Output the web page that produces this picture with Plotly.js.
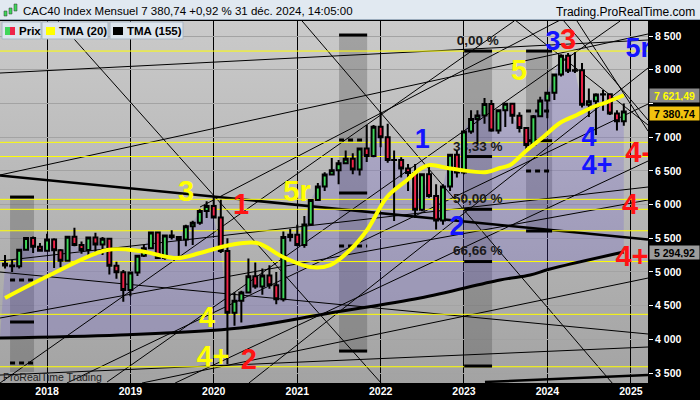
<!DOCTYPE html>
<html>
<head>
<meta charset="utf-8">
<script src="https://cdn.plot.ly/plotly-3.0.1.min.js"></script>
<style>
  html, body { margin: 0; padding: 0; background: #000; }
  #chart { width: 700px; height: 400px; }
</style>
</head>
<body>
<div id="chart"></div>
<script>
// Monthly candles, Jul 2017 - Dec 2024
const months = [
  '2017-07','2017-08','2017-09','2017-10','2017-11','2017-12',
  '2018-01','2018-02','2018-03','2018-04','2018-05','2018-06','2018-07','2018-08','2018-09','2018-10','2018-11','2018-12',
  '2019-01','2019-02','2019-03','2019-04','2019-05','2019-06','2019-07','2019-08','2019-09','2019-10','2019-11','2019-12',
  '2020-01','2020-02','2020-03','2020-04','2020-05','2020-06','2020-07','2020-08','2020-09','2020-10','2020-11','2020-12',
  '2021-01','2021-02','2021-03','2021-04','2021-05','2021-06','2021-07','2021-08','2021-09','2021-10','2021-11','2021-12',
  '2022-01','2022-02','2022-03','2022-04','2022-05','2022-06','2022-07','2022-08','2022-09','2022-10','2022-11','2022-12',
  '2023-01','2023-02','2023-03','2023-04','2023-05','2023-06','2023-07','2023-08','2023-09','2023-10','2023-11','2023-12',
  '2024-01','2024-02','2024-03','2024-04','2024-05','2024-06','2024-07','2024-08','2024-09','2024-10','2024-11','2024-12'
];
const opens = [
  5121,5094,5086,5330,5503,5373,
  5313,5482,5320,5167,5521,5398,5324,5511,5407,5493,5093,4997,
  4731,4993,5241,5351,5586,5208,5539,5519,5480,5678,5730,5905,
  5978,5806,5310,4396,4572,4695,4936,4784,4947,4803,4594,5518,
  5551,5399,5703,6067,6269,6447,6508,6613,6680,6520,6830,6721,
  7153,7000,6659,6660,6534,6469,5923,6449,6125,5762,6267,6739,
  6474,7082,7268,7322,7492,7099,7400,7497,7316,7135,6885,7311,
  7543,7657,7928,8206,7985,7993,7479,7531,7631,7636,7350,7235
];
const highs = [
  5250,5180,5340,5518,5525,5430,
  5565,5500,5340,5530,5657,5450,5520,5580,5520,5500,5150,5030,
  5000,5250,5400,5600,5600,5550,5620,5530,5700,5760,5930,6050,
  6111,6070,5500,4700,4720,5200,5140,5050,5100,5000,5600,5640,
  5700,5830,6080,6320,6480,6690,6660,6800,6760,6830,7180,7180,
  7376,7200,6800,6700,6600,6600,6450,6600,6300,6300,6750,6800,
  7100,7400,7400,7580,7550,7400,7500,7500,7370,7150,7330,7600,
  7660,7930,8230,8250,8259,8100,7720,7650,7700,7650,7400,7500
];
const lows = [
  5050,5000,5050,5320,5280,5300,
  5300,5060,5070,5150,5380,5270,5250,5300,5250,4960,4900,4556,
  4640,4940,5220,5340,5205,5180,5480,5200,5380,5400,5700,5800,
  5800,5280,3632,4200,4250,4700,4750,4660,4750,4520,4560,5450,
  5380,5360,5700,6060,6200,6440,6300,6600,6450,6430,6630,6700,
  6850,6620,5756,6400,6200,5800,5900,6100,5628,5700,6200,6400,
  6450,7050,6900,7200,7080,7050,7150,7200,7070,6800,6880,7300,
  7280,7550,7900,7950,7950,7440,7300,7030,7390,7330,7100,7170
];
const closes = [
  5094,5086,5330,5503,5373,5313,
  5482,5320,5167,5521,5398,5324,5511,5407,5493,5093,4997,4731,
  4993,5241,5351,5586,5208,5539,5519,5480,5678,5730,5905,5978,
  5806,5310,4396,4572,4695,4936,4784,4947,4803,4594,5518,5551,
  5399,5703,6067,6269,6447,6508,6613,6680,6520,6830,6721,7153,
  7000,6659,6660,6534,6469,5923,6449,6125,5762,6267,6739,6474,
  7082,7268,7322,7492,7099,7400,7497,7316,7135,6885,7311,7543,
  7657,7928,8206,7985,7993,7479,7531,7631,7636,7350,7235,7381
];

// TMA (20) and TMA (155)
const tma20Dates = ['2017-07-01','2018-01-14','2018-09-21','2019-02-12','2019-07-24','2019-11-02','2020-03-12','2020-07-09',
  '2020-10-31','2021-02-26','2021-05-25','2021-08-20','2021-11-03','2022-01-29','2022-04-27','2022-06-23','2022-08-06',
  '2022-10-19','2022-12-15','2023-04-12','2023-06-08','2023-07-22','2023-10-04','2023-12-14','2024-02-25','2024-05-09',
  '2024-07-19','2024-09-18','2024-12-01'];
const tma20Values = [4613,4954,5325,5310,5206,5280,5399,5429,5221,5073,5102,5325,5622,6111,6363,6527,6586,
  6542,6512,6482,6542,6586,6809,7001,7209,7328,7447,7521,7621];
const tma155Dates = ['2017-06-09','2018-11-17','2020-04-24','2021-05-25','2022-06-23','2023-06-08','2023-10-18','2024-01-13','2024-12-01'];
const tma155Values = [4019,4064,4168,4390,4613,4880,4954,5043,5295];

// horizontal support / resistance levels (yellow)
const yellowLevels = [8277, 6923, 6712, 6077, 5929, 5611, 5154, 4371, 3593];

// price axis ticks (7 500 sits under the price boxes)
const priceTicks = [3500, 4000, 4500, 5000, 5500, 6000, 6500, 7000, 7500, 8000, 8500];
const priceTickText = ['3 500', '4 000', '4 500', '5 000', '5 500', '6 000', '6 500', '7 000', '', '8 000', '8 500'];

// drawn trendlines: [start date, start price, end date, end price]
const thinLines = [
  ['2017-06-09', 7951, '2025-03-17', 8441],
  ['2017-06-09', 6438, '2025-03-17', 8530],
  ['2018-02-18', 8723, '2022-01-03', 3352],
  ['2021-01-22', 8723, '2024-10-11', 3352],
  ['2017-06-09', 3352, '2023-08-09', 8723],
  ['2017-06-09', 4316, '2025-03-17', 6067],
  ['2017-06-09', 4998, '2025-03-17', 4079],
  ['2017-06-09', 5162, '2025-03-17', 6260],
  ['2019-02-21', 3352, '2025-03-17', 4909],
  ['2017-06-09', 3470, '2025-03-17', 3886],
  ['2018-09-21', 3367, '2024-11-15', 8723],
  ['2020-06-03', 3352, '2025-03-17', 8025],
  ['2019-07-16', 3352, '2025-03-17', 6645],
  ['2018-03-29', 3352, '2025-03-17', 7491],
  ['2019-11-02', 5963, '2024-02-26', 8737],
  ['2023-08-13', 8737, '2025-03-17', 7179],
  ['2024-03-10', 8737, '2025-03-17', 7254],
  ['2024-05-10', 8723, '2025-03-17', 7090]
];
const thickLines = [
  ['2017-06-09', 6430, '2025-03-17', 5481],
  ['2023-04-03', 3367, '2025-03-17', 3470]
];

// shaded boxes: [start, end, bottom, top] and the levels marked inside them
const boxes = [
  ['2017-07-23', '2017-11-05', 3515, 6111],
  ['2021-07-03', '2021-11-03', 3826, 8515],
  ['2023-01-02', '2023-05-04', 3604, 8277],
  ['2023-09-30', '2024-01-22', 5607, 8277]
];
const boxSolidLevels = [[6111, 4257], [8515, 6171, 3826], [8277, 6712, 5929, 5154, 3604], [8277, 6947, 5607]];
const boxDashLevels = [[4880, 3648], [6957, 5384], [], [7387, 6497]];

// Fibonacci labels
const fibTexts = ['0,00 %', '33,33 %', '50,00 %', '66,66 %'];
const fibDates = ['2023-03-02', '2023-03-02', '2023-03-02', '2023-03-02'];
const fibPrices = [8411, 6846, 6074, 5295];

// wave counts
const yellowWaves = {text: ['3', '4', '4+', '5r', '5'],
  x: ['2019-09-02', '2019-12-03', '2019-12-29', '2020-12-31', '2023-08-30'],
  y: [6156, 4286, 3708, 6156, 7951]};
const redWaves = {text: ['1', '2', '3', '4-', '4', '4+'],
  x: ['2020-04-30', '2020-06-03', '2024-04-01', '2025-02-02', '2024-12-29', '2025-01-06'],
  y: [5963, 3663, 8411, 6734, 5963, 5191]};
const blueWaves = {text: ['1', '2', '3', '4', '4+', '5r'],
  x: ['2022-07-02', '2022-12-02', '2024-01-26', '2024-07-02', '2024-08-06', '2025-02-02'],
  y: [6942, 5651, 8396, 6972, 6556, 8292]};

const FONT = 'Liberation Sans, Arial, sans-serif';
const X_RANGE = ['2017-06-09', '2025-03-17'];
const Y_RANGE = [3352, 8723];

// pixel helpers for the frame decorations
const PLOT_W = 648, PLOT_H = 362, TOP = 21;
function px(x) { return x / PLOT_W; }
function py(y) { return (TOP + PLOT_H - y) / PLOT_H; }

function segments(list) {
    const x = [], y = [];
    list.forEach(s => { x.push(s[0], s[2], null); y.push(s[1], s[3], null); });
    return {x, y};
}

// shaded boxes as polygons
const boxX = [], boxY = [];
boxes.forEach(b => {
    boxX.push(b[0], b[1], b[1], b[0], b[0], null);
    boxY.push(b[2], b[2], b[3], b[3], b[2], null);
});

function levelBars(levels) {
    const x = [], y = [];
    boxes.forEach((b, i) => {
        levels[i].forEach(v => { x.push(b[0], b[1], null); y.push(v, v, null); });
    });
    return {x, y};
}
const solidBars = levelBars(boxSolidLevels);
const dashBars = levelBars(boxDashLevels);

const levelX = [], levelY = [];
yellowLevels.forEach(v => { levelX.push('2017-06-01', '2025-04-01', null); levelY.push(v, v, null); });

const thin = segments(thinLines);
const thick = segments(thickLines);

const noHover = {hoverinfo: 'skip', showlegend: false};

const traces = [
    // lower layer (below the candles)
    Object.assign({x: boxX, y: boxY, type: 'scatter', mode: 'lines', fill: 'toself',
        fillcolor: 'rgba(60,60,60,0.28)', line: {width: 0}}, noHover),
    Object.assign({x: tma155Dates, y: tma155Values, type: 'scatter', mode: 'lines',
        line: {width: 0, shape: 'spline', color: 'rgba(0,0,0,0)'}}, noHover),
    Object.assign({x: months, y: closes, type: 'scatter', mode: 'lines', fill: 'tonexty',
        fillcolor: 'rgba(100,80,220,0.22)', line: {width: 0}}, noHover),
    Object.assign({x: thin.x, y: thin.y, type: 'scatter', mode: 'lines',
        line: {color: '#000', width: 1}}, noHover),
    Object.assign({x: thick.x, y: thick.y, type: 'scatter', mode: 'lines',
        line: {color: '#000', width: 2.5}}, noHover),
    Object.assign({x: levelX, y: levelY, type: 'scatter', mode: 'lines',
        line: {color: '#ffff00', width: 1}}, noHover),
    Object.assign({x: solidBars.x, y: solidBars.y, type: 'scatter', mode: 'lines',
        line: {color: '#000', width: 3}}, noHover),
    Object.assign({x: dashBars.x, y: dashBars.y, type: 'scatter', mode: 'lines',
        line: {color: '#000', width: 3, dash: '5px,4px'}}, noHover),
    Object.assign({x: fibDates, y: fibPrices, text: fibTexts, type: 'scatter', mode: 'text',
        textposition: 'middle center', textfont: {family: FONT, size: 13.5, color: '#1a1a1a', weight: 'bold'}}, noHover),
    // upper layer (price and indicators)
    Object.assign({x: months, open: opens, high: highs, low: lows, close: closes, type: 'candlestick', yaxis: 'y2',
        increasing: {line: {color: '#000', width: 2}, fillcolor: '#3fd65a'},
        decreasing: {line: {color: '#000', width: 2}, fillcolor: '#ee2449'},
        whiskerwidth: 0}, noHover),
    Object.assign({x: tma155Dates, y: tma155Values, type: 'scatter', mode: 'lines', yaxis: 'y2',
        line: {color: '#000', width: 3, shape: 'spline'}}, noHover),
    Object.assign({x: tma20Dates, y: tma20Values, type: 'scatter', mode: 'lines', yaxis: 'y2',
        line: {color: '#ffff00', width: 4, shape: 'spline'}}, noHover)
];

[[yellowWaves, '#ffff00', 29], [redWaves, '#ff1414', 29], [blueWaves, '#1414ff', 27]].forEach(([w, c, s]) => {
    traces.push(Object.assign({x: w.x, y: w.y, text: w.text, type: 'scatter', mode: 'text', yaxis: 'y2',
        textposition: 'middle center', cliponaxis: true,
        textfont: {family: FONT, size: s, color: c, weight: 'bold'}}, noHover));
});

const bgGradient = 'data:image/svg+xml;charset=utf-8,' + encodeURIComponent(
    '<svg xmlns="http://www.w3.org/2000/svg" width="100" height="100" viewBox="0 0 100 100" preserveAspectRatio="none">' +
    '<defs><linearGradient id="g" x1="0" y1="0" x2="0" y2="1">' +
    '<stop offset="0" stop-color="#cacaca"/><stop offset="1" stop-color="#a3a3a3"/></linearGradient></defs>' +
    '<rect width="100" height="100" fill="url(#g)"/></svg>');

const shapes = [
    // title bar
    {type: 'rect', xref: 'paper', yref: 'paper', x0: px(0), x1: px(700), y0: py(20), y1: py(0),
        fillcolor: '#e1e9f1', line: {width: 0}, layer: 'above'},
    {type: 'line', xref: 'paper', yref: 'paper', x0: px(0), x1: px(700), y0: py(19.5), y1: py(19.5),
        line: {color: '#9aabbc', width: 1}, layer: 'above'},
    // title icon
    {type: 'rect', xref: 'paper', yref: 'paper', x0: px(4), x1: px(7), y0: py(16), y1: py(11),
        fillcolor: '#3fd65a', line: {color: '#333', width: 0.5}, layer: 'above'},
    {type: 'rect', xref: 'paper', yref: 'paper', x0: px(9), x1: px(12), y0: py(14), y1: py(8),
        fillcolor: '#3fd65a', line: {color: '#333', width: 0.5}, layer: 'above'},
    {type: 'rect', xref: 'paper', yref: 'paper', x0: px(14), x1: px(17), y0: py(11), y1: py(4),
        fillcolor: '#3fd65a', line: {color: '#333', width: 0.5}, layer: 'above'}
];

// legend boxes
[[2, 41], [42, 108], [110, 183]].forEach(([a, b]) => {
    shapes.push({type: 'rect', xref: 'paper', yref: 'paper', x0: px(a), x1: px(b), y0: py(39), y1: py(22),
        fillcolor: '#dde5ed', line: {color: '#a9b6c4', width: 1}, layer: 'above'});
});
[[5, 10, '#3fd65a'], [10, 15, '#ee2449'], [46, 55, '#ffff00'], [113, 123, '#000000']].forEach(([a, b, c]) => {
    shapes.push({type: 'rect', xref: 'paper', yref: 'paper', x0: px(a), x1: px(b), y0: py(35), y1: py(27),
        fillcolor: c, line: {width: 0}, layer: 'above'});
});

function label(text, x, y, size, color, extra) {
    return Object.assign({text: text, xref: 'paper', yref: 'paper', x: px(x), y: py(y),
        xanchor: 'left', yanchor: 'middle', showarrow: false,
        font: {family: FONT, size: size, color: color}}, extra || {});
}

function priceBox(text, value, bg, color, shift) {
    return {text: text, xref: 'paper', yref: 'y', x: 1, y: value, xanchor: 'left', yanchor: 'middle',
        xshift: 1, yshift: shift || 0, showarrow: false, bgcolor: bg, borderpad: 1.5, width: 46, height: 10,
        align: 'center', font: {family: FONT, size: 10.5, color: color, weight: 'bold'}};
}

const annotations = [
    label('CAC40 Index Mensuel 7 380,74 +0,92 % 31 déc. 2024, 14:05:00', 21, 10.5, 11.5, '#000'),
    label('Trading.ProRealTime.com', 697, 11.5, 12, '#000', {xanchor: 'right'}),
    label('<b>Prix</b>', 17, 31, 11.5, '#000'),
    label('<b>TMA (20)</b>', 57, 31, 11.5, '#000'),
    label('<b>TMA (155)</b>', 125, 31, 11.5, '#000'),
    label('ProRealTime Trading', 1, 376.5, 10.5, '#222'),
    priceBox('7 621,49', 7621, '#8a8a8a', '#ffff00', 0),
    priceBox('7 380,74', 7381, '#f2c20f', '#000', -2),
    priceBox('5 294,92', 5295, '#9c9c9c', '#000', 0)
];

const axisFont = {family: FONT, size: 10.5, color: '#fff', weight: 'bold'};

const layout = {
    width: 700, height: 400,
    margin: {l: 0, r: 52, t: 21, b: 17, pad: 0},
    paper_bgcolor: '#000',
    plot_bgcolor: '#b8b8b8',
    showlegend: false,
    boxgap: 0.12,
    xaxis: {type: 'date', range: X_RANGE, dtick: 'M12', tick0: '2018-01-01', tickformat: '%Y',
        showgrid: true, gridcolor: '#000', gridwidth: 1, ticks: '', tickfont: axisFont,
        rangeslider: {visible: false}, zeroline: false, showline: false, fixedrange: true},
    yaxis: {range: Y_RANGE, side: 'right', tickmode: 'array', tickvals: priceTicks, ticktext: priceTickText,
        showgrid: true, gridcolor: '#a3a3a3', gridwidth: 1, ticks: 'outside', ticklen: 4,
        tickcolor: '#fff', tickfont: axisFont, zeroline: false, showline: false, fixedrange: true},
    yaxis2: {range: Y_RANGE, overlaying: 'y', side: 'right', showgrid: false, showticklabels: false,
        ticks: '', zeroline: false, showline: false, fixedrange: true},
    images: [{source: bgGradient, xref: 'paper', yref: 'paper', x: 0, y: 1, sizex: 1, sizey: 1,
        xanchor: 'left', yanchor: 'top', sizing: 'stretch', layer: 'below'}],
    shapes: shapes,
    annotations: annotations
};

Plotly.newPlot('chart', traces, layout, {staticPlot: true, displayModeBar: false});
</script>
</body>
</html>
